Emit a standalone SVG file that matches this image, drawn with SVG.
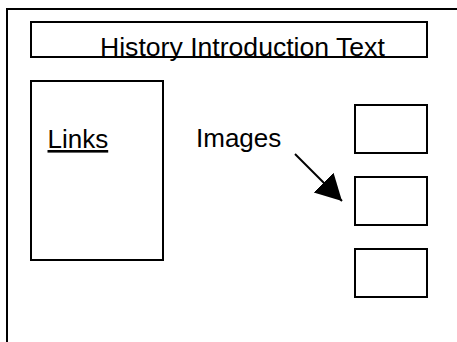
<svg xmlns="http://www.w3.org/2000/svg" width="457" height="342" viewBox="0 0 457 342">
  <style>
    .box { fill: #ffffff; stroke: #000000; stroke-width: 2; }
    .label { font-family: "Liberation Sans", Arial, sans-serif; font-size: 26px; fill: #000000; }
    .title { font-size: 26.6px; }
    .conn { stroke: #000000; stroke-width: 2; fill: none; }
  </style>
  <defs>
    <marker id="arrowhead" markerUnits="userSpaceOnUse" markerWidth="30" markerHeight="32" refX="26" refY="14" orient="auto">
      <path d="M0,0 L26,14 L0,28 Z" fill="#000000"/>
    </marker>
  </defs>
  <rect width="457" height="342" fill="#ffffff"/>

  <!-- page frame: open to the right and bottom -->
  <g id="page">
    <rect class="box" x="7" y="9" width="470" height="360"/>
  </g>

  <g id="intro">
    <rect class="box" x="31" y="22" width="396" height="35"/>
    <text class="label title" x="100" y="56">History Introduction Text</text>
  </g>

  <g id="links">
    <rect class="box" x="31" y="81" width="132" height="179"/>
    <text class="label" x="47.5" y="148" text-decoration="underline">Links</text>
  </g>

  <g id="images-label">
    <text class="label" x="196" y="147">Images</text>
  </g>

  <g id="image1">
    <rect class="box" x="355" y="105" width="72" height="48"/>
  </g>
  <g id="image2">
    <rect class="box" x="355" y="177" width="72" height="48"/>
  </g>
  <g id="image3">
    <rect class="box" x="355" y="249" width="72" height="48"/>
  </g>

  <g id="connectors">
    <line class="conn" x1="295" y1="154" x2="342" y2="201" marker-end="url(#arrowhead)"/>
  </g>
</svg>
